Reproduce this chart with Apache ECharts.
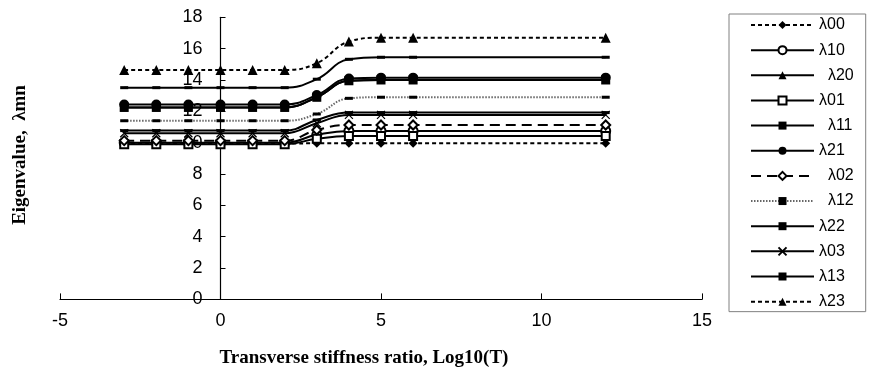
<!DOCTYPE html>
<html>
<head>
<meta charset="utf-8">
<script src="https://cdn.jsdelivr.net/npm/echarts@6/dist/echarts.min.js"></script>
<style>
html,body{margin:0;padding:0;background:#fff;}
#chart{width:869px;height:375px;}
</style>
</head>
<body>
<div id="chart"></div>
<script>
// ---- data ----
var xValues = [-3, -2, -1, 0, 1, 2, 3, 4, 5, 6, 12];
var seriesNames = ['λ00','λ10','λ20','λ01','λ11','λ21','λ02','λ12','λ22','λ03','λ13','λ23'];
var lam00 = [9.95, 9.95, 9.95, 9.95, 9.95, 9.95, 9.96, 9.97, 9.97, 9.97, 9.97];
var lam10 = [10.0, 10.0, 10.0, 10.0, 10.0, 10.0, 10.5, 10.75, 10.75, 10.75, 10.75];
var lam20 = [12.25, 12.25, 12.25, 12.25, 12.25, 12.25, 12.9, 13.95, 14.0, 14.0, 14.0];
var lam01 = [9.9, 9.9, 9.9, 9.9, 9.9, 9.9, 10.25, 10.42, 10.42, 10.42, 10.42];
var lam11 = [10.77, 10.77, 10.77, 10.77, 10.77, 10.77, 11.45, 11.92, 11.92, 11.92, 11.92];
var lam21 = [12.44, 12.44, 12.44, 12.44, 12.44, 12.44, 13.04, 14.1, 14.15, 14.15, 14.15];
var lam02 = [10.13, 10.13, 10.13, 10.13, 10.13, 10.13, 10.81, 11.13, 11.13, 11.13, 11.13];
var lam12 = [11.4, 11.4, 11.4, 11.4, 11.4, 11.4, 11.83, 12.83, 12.9, 12.9, 12.9];
var lam22 = [13.51, 13.51, 13.51, 13.51, 13.51, 13.51, 14.05, 15.32, 15.45, 15.45, 15.45];
var lam03 = [10.6, 10.6, 10.6, 10.6, 10.6, 10.6, 11.24, 11.77, 11.77, 11.77, 11.77];
var lam13 = [12.25, 12.25, 12.25, 12.25, 12.25, 12.25, 12.9, 13.95, 14.0, 14.0, 14.0];
var lam23 = [14.64, 14.64, 14.64, 14.64, 14.64, 14.64, 15.07, 16.45, 16.7, 16.7, 16.7];
var seriesValues = [lam00, lam10, lam20, lam01, lam11, lam21, lam02, lam12, lam22, lam03, lam13, lam23];
var xTicks = [-5, 0, 5, 10, 15];
var yTicks = [0, 2, 4, 6, 8, 10, 12, 14, 16, 18];

// ---- styles ----
var X_PATH = 'path://M0,0L10,10M10,0L0,10';
var styles = [
  {symbol:'diamond', size:9, dash:[4,3], color:'#000'},
  {symbol:'emptyCircle', size:9, dash:'solid', color:'#000'},
  {symbol:'triangle', size:8, dash:'solid', color:'#000'},
  {symbol:'emptyRect', size:8, dash:'solid', color:'#000'},
  {symbol:'rect', size:[8,3], dash:'solid', color:'#000'},
  {symbol:'circle', size:10, dash:'solid', color:'#000'},
  {symbol:'emptyDiamond', size:9, dash:[10,6], color:'#000'},
  {symbol:'rect', size:[8,3], dash:[1.5,1.5], color:'#000', lineColor:'#666'},
  {symbol:'rect', size:[8,3], dash:'solid', color:'#000'},
  {symbol:X_PATH, size:8, dash:'solid', color:'#000', xmark:true},
  {symbol:'rect', size:9, dash:'solid', color:'#000'},
  {symbol:'triangle', size:10, dash:[4,3], color:'#000'}
];
var indent = {'λ20':true,'λ11':true,'λ02':true,'λ12':true};

var series = seriesNames.map(function(name, i){
  var st = styles[i];
  var data = xValues.map(function(x, j){ return [x, seriesValues[i][j]]; });
  var itemStyle = {color: st.color, borderColor:'#000', borderWidth: st.symbol.indexOf('empty')===0 ? 1.2 : 0};
  if (st.xmark) { itemStyle = {color:'#000', borderColor:'#000', borderWidth:1.2}; }
  return {
    name: name,
    type: 'line',
    data: data,
    smooth: 0.45,
    symbol: st.symbol,
    symbolSize: st.size,
    showAllSymbol: true,
    lineStyle: {color: st.lineColor || '#000', width: 2, type: st.dash},
    itemStyle: itemStyle,
    emphasis: {disabled: true},
    animation: false,
    z: 2 + i
  };
});

var GRID_LEFT = 60, GRID_RIGHT = 167, PLOT_W = 869 - GRID_LEFT - GRID_RIGHT;
var chart = echarts.init(document.getElementById('chart'), null, {renderer:'canvas'});
chart.setOption({
  backgroundColor: '#fff',
  animation: false,
  grid: {left: GRID_LEFT, right: GRID_RIGHT, top: 17.3, bottom: 75.6, containLabel: false},
  xAxis: {
    type: 'value', min: xTicks[0], max: xTicks[xTicks.length-1], interval: 5,
    axisLine: {onZero: true, lineStyle: {color:'#000', width: 1.2}},
    axisTick: {inside: true, length: 6, lineStyle: {color:'#000'}},
    axisLabel: {color:'#000', fontSize: 18, fontFamily: 'Liberation Sans', margin: 13},
    splitLine: {show: false}
  },
  yAxis: {
    type: 'value', min: yTicks[0], max: yTicks[yTicks.length-1], interval: 2,
    position: 'left',
    offset: -PLOT_W * (0 - xTicks[0]) / (xTicks[xTicks.length-1] - xTicks[0]),
    axisLine: {show: true, onZero: false, lineStyle: {color:'#000', width: 1.2}},
    axisTick: {show: true, inside: true, length: 5, lineStyle: {color:'#000'}},
    axisLabel: {color:'#000', fontSize: 18, fontFamily: 'Liberation Sans', margin: 18},
    splitLine: {show: false}
  },
  legend: {
    orient: 'vertical',
    left: 729, top: 14,
    data: seriesNames,
    borderColor: '#808080', borderWidth: 1,
    backgroundColor: '#fff',
    padding: [3, 12, 2, 21],
    itemWidth: 63, itemHeight: 10, itemGap: 9.15,
    textStyle: {color:'#000', fontSize: 16, fontFamily: 'Liberation Sans', lineHeight: 16},
    formatter: function(n){ return indent[n] ? '  ' + n : n; },
    selectedMode: false
  },
  graphic: [
    {type:'text', x: 364, y: 358, style:{text:'Transverse stiffness ratio, Log10(T)', font:'bold 19px "Liberation Serif"', fill:'#000', align:'center', verticalAlign:'middle', textAlign:'center', textVerticalAlign:'middle'}},
    {type:'text', x: 20, y: 155, rotation: Math.PI/2, style:{text:'Eigenvalue,  λmn', font:'bold 19px "Liberation Serif"', fill:'#000', align:'center', verticalAlign:'middle', textAlign:'center', textVerticalAlign:'middle'}}
  ],
  series: series
});
</script>
</body>
</html>
